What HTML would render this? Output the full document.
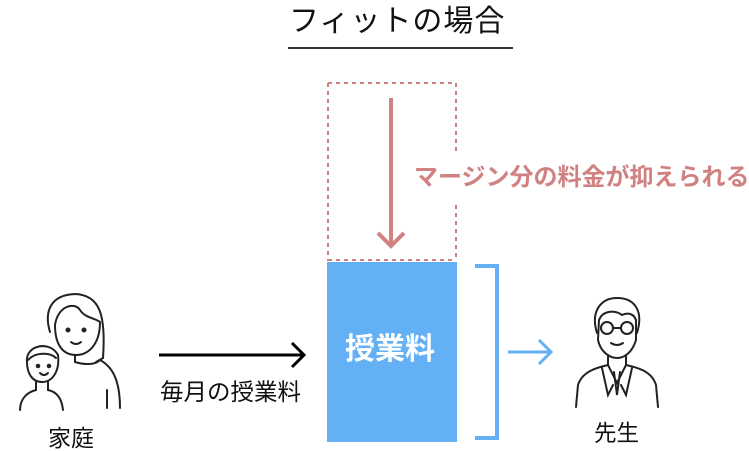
<!DOCTYPE html>
<html><head><meta charset="utf-8"><style>
html,body{margin:0;padding:0;background:#fff;}
body{width:749px;height:450px;overflow:hidden;position:relative;font-family:"Liberation Sans","Noto Sans CJK JP",sans-serif;}
.t{position:absolute;white-space:nowrap;line-height:1;}
</style></head><body>
<svg width="749" height="450" style="position:absolute;left:0;top:0">
<line x1="288" y1="48" x2="513" y2="48" stroke="#333" stroke-width="2"/>
<g stroke="#d08282" stroke-width="2" stroke-dasharray="4,4" fill="none">
<line x1="328" y1="83" x2="456" y2="83"/>
<line x1="328" y1="83" x2="328" y2="261"/>
<line x1="328" y1="260" x2="456" y2="260"/>
<line x1="456" y1="83" x2="456" y2="152"/>
<line x1="456" y1="205" x2="456" y2="261"/>
</g>
<line x1="391" y1="98" x2="391" y2="245" stroke="#d08282" stroke-width="4"/>
<polyline points="378,233 391,246 404,233" fill="none" stroke="#d08282" stroke-width="4"/>
<rect x="327" y="262" width="130" height="180" fill="#64b0f5"/>
<polyline points="475,266 497,266 497,438 475,438" fill="none" stroke="#64b0f5" stroke-width="4"/>
<line x1="508" y1="352" x2="550" y2="352" stroke="#64b0f5" stroke-width="3"/>
<polyline points="539,340 551,352 539,364" fill="none" stroke="#64b0f5" stroke-width="3"/>
<line x1="159" y1="355" x2="303" y2="355" stroke="#000" stroke-width="3"/>
<polyline points="292,343 304,355 292,367" fill="none" stroke="#000" stroke-width="3"/>
<g fill="none" stroke="#222" stroke-width="2" stroke-linecap="round">
<path d="M50,332 C44,312 50,295 75,294 C100,295 106,315 103,358 L96,362"/>
<path d="M55,325 C58,305 75,302 80,310 C85,318 95,318 100,322 C100,345 88,355 76,355 C63,355 55,345 55,325 Z"/>
<path d="M75,355 L75,362 C85,365 95,365 100,360 C115,368 120,385 120,408"/>
<line x1="107" y1="390" x2="107" y2="408"/>
<circle cx="68" cy="330" r="1.5" fill="#222"/><circle cx="84" cy="330" r="1.5" fill="#222"/>
<path d="M71,342 Q76,346 81,342"/>
<path d="M27,362 C25,345 50,340 58,355 C60,372 52,382 42,382 C32,382 27,373 27,362 Z"/>
<path d="M28,360 C35,352 50,352 56,358"/>
<path d="M36,382 L36,390 C28,392 20,398 20,410"/>
<path d="M48,382 L48,390 C58,392 62,400 63,410"/>
<circle cx="38" cy="366" r="1.3" fill="#222"/><circle cx="49" cy="366" r="1.3" fill="#222"/>
<path d="M40,373 Q44,377 48,373"/>
</g>
<g fill="none" stroke="#222" stroke-width="2" stroke-linecap="round">
<path d="M597,333 C590,310 602,298 617,298 C634,298 644,310 637,333"/>
<path d="M599,320 C603,310 615,310 622,315 C628,312 634,314 636,320 L636,340 C632,353 624,358 617,358 C608,358 600,350 598,340 Z"/>
<circle cx="607" cy="328" r="6"/><circle cx="627" cy="328" r="6"/>
<line x1="613" y1="328" x2="621" y2="328"/>
<path d="M611,343 Q617,347 623,343"/>
<path d="M608,355 L608,365 C595,368 582,372 578,385 L576,407"/>
<path d="M626,355 L626,365 C640,368 652,372 656,385 L658,407"/>
<path d="M608,365 L617,383 L626,365"/>
<path d="M614,372 L617,395 L620,372"/>
<path d="M602,368 L608,395 L613,385"/>
<path d="M632,368 L626,395 L621,385"/>
</g>
</svg>
<div class="t" style="left:289px;top:7px;font-size:30px;color:#111;letter-spacing:1px">フィットの場合</div>
<div class="t" style="left:414px;top:166px;font-size:24px;font-weight:bold;color:#d08282">マージン分の料金が抑えられる</div>
<div class="t" style="left:345px;top:335px;font-size:30px;font-weight:bold;color:#fff">授業料</div>
<div class="t" style="left:160px;top:381px;font-size:23.5px;color:#111">毎月の授業料</div>
<div class="t" style="left:48px;top:427px;font-size:23px;color:#111">家庭</div>
<div class="t" style="left:594px;top:423px;font-size:22.5px;color:#111">先生</div>
</body></html>
